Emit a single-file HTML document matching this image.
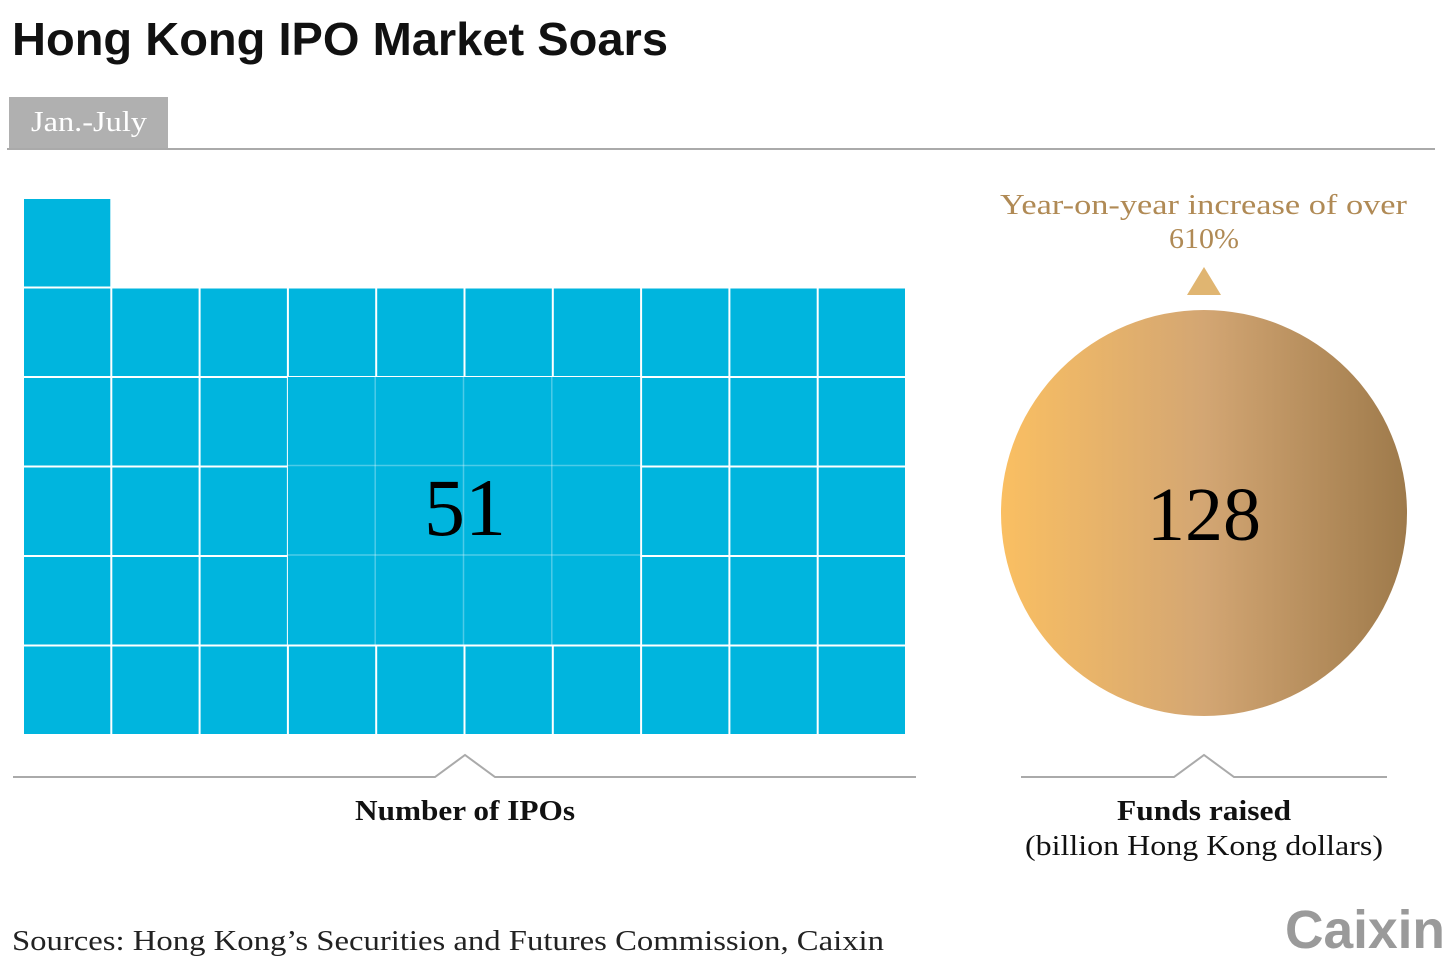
<!DOCTYPE html>
<html><head><meta charset="utf-8"><style>
html,body{margin:0;padding:0;background:#fff;width:1456px;height:970px;overflow:hidden}
text{font-family:"Liberation Serif",serif}
</style></head><body>
<svg id="chart" width="1456" height="970" viewBox="0 0 1456 970" xmlns="http://www.w3.org/2000/svg">
<defs><linearGradient id="gold" x1="0" x2="1" y1="0" y2="0"><stop offset="0" stop-color="#fabf62"/><stop offset="0.5" stop-color="#d3a673"/><stop offset="1" stop-color="#9e7a4b"/></linearGradient></defs>
<text x="12" y="55" font-size="46" font-weight="bold" textLength="656" lengthAdjust="spacingAndGlyphs" style="font-family:'Liberation Sans',sans-serif" fill="#111">Hong Kong IPO Market Soars</text>
<rect x="9" y="97" width="159" height="51" fill="#b0b0b0"/>
<text x="31" y="131" font-size="28" fill="#fff" textLength="116" lengthAdjust="spacingAndGlyphs">Jan.-July</text>
<line x1="7" y1="149" x2="1435" y2="149" stroke="#aaa" stroke-width="2"/>
<g id="grid"></g>
<text id="ipoText" x="465" y="535" font-size="82" text-anchor="middle" fill="#000">51</text>
<polyline points="13,777 435,777 465,755 495,777 916,777" fill="none" stroke="#aaa" stroke-width="2"/>
<text x="355" y="820" font-size="28" font-weight="bold" fill="#111" textLength="220" lengthAdjust="spacingAndGlyphs">Number of IPOs</text>
<text x="1000" y="214" font-size="28" fill="#b08a55" textLength="407" lengthAdjust="spacingAndGlyphs">Year-on-year increase of over</text>
<text x="1169" y="248" font-size="28" fill="#b08a55" textLength="70" lengthAdjust="spacingAndGlyphs">610%</text>
<polygon points="1187,295 1221,295 1204,267" fill="#e0b571"/>
<circle id="fundsCircle" cx="1204" cy="513" r="203" fill="url(#gold)"/>
<text id="fundsText" x="1204" y="540" font-size="76" text-anchor="middle" fill="#000">128</text>
<polyline points="1021,777 1174,777 1204,755 1234,777 1387,777" fill="none" stroke="#aaa" stroke-width="2"/>
<text x="1117" y="820" font-size="28" font-weight="bold" fill="#111" textLength="174" lengthAdjust="spacingAndGlyphs">Funds raised</text>
<text x="1025" y="855" font-size="28" fill="#111" textLength="358" lengthAdjust="spacingAndGlyphs">(billion Hong Kong dollars)</text>
<text x="12" y="950" font-size="28" fill="#222" textLength="872" lengthAdjust="spacingAndGlyphs">Sources: Hong Kong’s Securities and Futures Commission, Caixin</text>
<text x="1285" y="948" font-size="54" font-weight="bold" style="font-family:'Liberation Sans',sans-serif" fill="#9a9a9a" textLength="160" lengthAdjust="spacingAndGlyphs">Caixin</text>
</svg>
<script>
const ipoCount = [51];
const fundsRaised = [128];
const cols = 10;
const svgNS = "http://www.w3.org/2000/svg";
const g = document.getElementById('grid');
const x0 = 24, cw = 88.3, bottom = 736, ch = 89.5;
const n = ipoCount[0];
const rows = Math.ceil(n / cols);
for (let i = 0; i < n; i++) {
  const r = Math.floor(i / cols), c = i % cols;
  const rect = document.createElementNS(svgNS, 'rect');
  rect.setAttribute('x', x0 + c * cw);
  rect.setAttribute('y', bottom - (r + 1) * ch);
  rect.setAttribute('width', cw - 2);
  rect.setAttribute('height', ch - 2);
  rect.setAttribute('fill', '#00b5de');
  
  
  g.appendChild(rect);
}
if (rows >= 4) {
  const bx = x0 + 3 * cw - 2, by = bottom - 4 * ch - 2;
  const blk = document.createElementNS(svgNS, 'rect');
  blk.setAttribute('x', bx + 1); blk.setAttribute('y', by + 1);
  blk.setAttribute('width', 4 * cw - 1); blk.setAttribute('height', 3 * ch - 1);
  blk.setAttribute('fill', '#00b5de');
  
  
  g.appendChild(blk);
  for (let k = 1; k < 4; k++) {
    const l = document.createElementNS(svgNS, 'line');
    l.setAttribute('x1', bx + k * cw); l.setAttribute('x2', bx + k * cw);
    l.setAttribute('y1', by); l.setAttribute('y2', by + 3 * ch);
    l.setAttribute('stroke', 'rgba(255,255,255,0.3)'); l.setAttribute('stroke-width', '1.5');
    
    
    g.appendChild(l);
  }
  for (let k = 1; k < 3; k++) {
    const l = document.createElementNS(svgNS, 'line');
    l.setAttribute('x1', bx); l.setAttribute('x2', bx + 4 * cw);
    l.setAttribute('y1', by + k * ch); l.setAttribute('y2', by + k * ch);
    l.setAttribute('stroke', 'rgba(255,255,255,0.3)'); l.setAttribute('stroke-width', '1.5');
    
    
    g.appendChild(l);
  }
}
document.getElementById('ipoText').textContent = n;
const circ = document.getElementById('fundsCircle');
circ.setAttribute('r', 203 * Math.sqrt(fundsRaised[0] / 128));
document.getElementById('fundsText').textContent = fundsRaised[0];
</script>
</body></html>
